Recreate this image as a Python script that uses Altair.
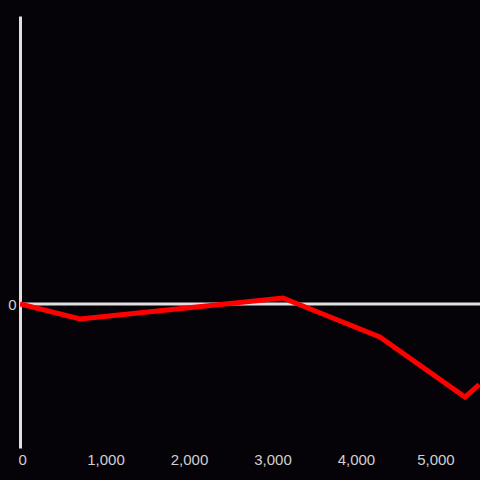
import altair as alt
import pandas as pd

xs = [0, 720, 3150, 4310, 5330, 5500]
ys = [0, -0.104, 0.042, -0.229, -0.646, -0.56]
x_ticks = [0, 1000, 2000, 3000, 4000, 5000]

df = pd.DataFrame({"x": xs, "y": ys})
zero = pd.DataFrame({"y": [0]})

xscale = alt.Scale(domain=[0, 5510], nice=False, zero=False)
yscale = alt.Scale(domain=[-1, 2], nice=False)

xaxis = alt.Axis(values=x_ticks, format=",.0f", domain=False, ticks=False, grid=False,
                 labelColor="#d0d0d0", labelFontSize=15, labelFont="Liberation Sans",
                 labelPadding=4, title=None,
                 labelOffset={"condition": {"test": "datum.value == 0 || datum.value == 5000",
                                            "value": -2},
                              "value": 2})
yaxis = alt.Axis(values=[0], domain=True, domainColor="#e0e0e0", domainWidth=3,
                 ticks=False, grid=False, labelColor="#d0d0d0", labelFontSize=15,
                 labelFont="Liberation Sans", labelPadding=4, title=None)

rule = alt.Chart(zero).mark_rule(color="#e0e0e0", strokeWidth=3).encode(
    y=alt.Y("y:Q", scale=yscale, axis=yaxis)
)

line = alt.Chart(df).mark_line(color="#ff0000", strokeWidth=5, clip=True,
                               strokeJoin="miter").encode(
    x=alt.X("x:Q", scale=xscale, axis=xaxis),
    y=alt.Y("y:Q", scale=yscale, axis=yaxis),
)

chart = alt.layer(rule, line).properties(
    width=460, height=432,
    background="#050307",
    autosize=alt.AutoSizeParams(type="none"),
    padding={"left": 20, "top": 16, "right": 0, "bottom": 32},
).configure_view(stroke=None)

chart.save("out.html", embed_options={
    "renderer": "svg", "actions": False,
    "defaultStyle": "body{margin:0;background:#050307;overflow:hidden}",
})
